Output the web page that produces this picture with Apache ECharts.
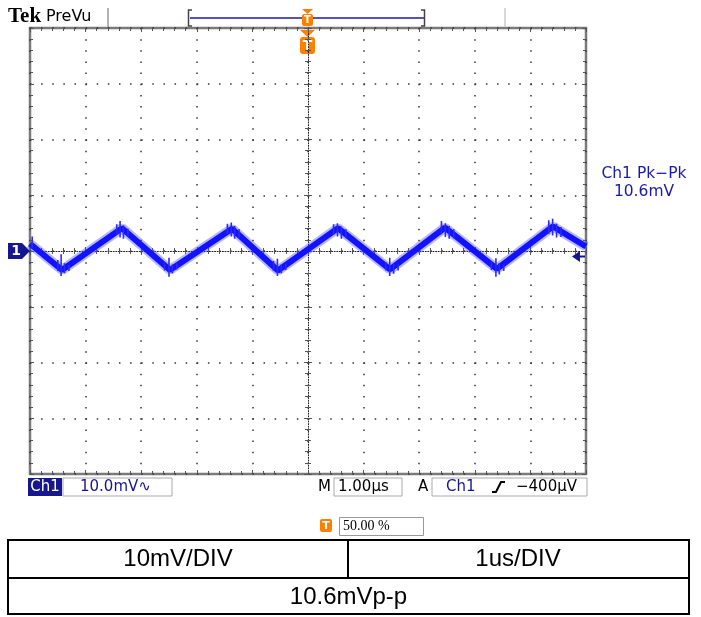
<!DOCTYPE html>
<html>
<head>
<meta charset="utf-8">
<script src="https://cdn.jsdelivr.net/npm/echarts@6/dist/echarts.min.js"></script>
<style>
html,body{margin:0;padding:0;background:#fff;}
#chart{width:701px;height:617px;}
</style>
</head>
<body>
<div id="chart"></div>
<script>
// ---- Data (time in µs from left edge, Ch1 in mV) ----
const timeUs = [0, 0.576, 1.655, 2.518, 3.633, 4.460, 5.540, 6.475, 7.464, 8.399, 9.406, 10];
const ch1mV  = [1.3, -3.4, 4.1, -3.4, 4.0, -3.5, 4.1, -3.3, 4.2, -3.2, 4.4, 0.8];

// noise spikes near the corners of the ripple (time, low, high)
const spikeT  = [0.04, 0.50, 0.56, 0.62, 0.70, 1.56, 1.62, 1.68, 1.76, 2.42, 2.50, 2.56, 2.64,
                 3.55, 3.62, 3.68, 3.76, 4.38, 4.45, 4.52, 4.60, 5.46, 5.53, 5.60, 5.68,
                 6.40, 6.47, 6.54, 6.62, 7.40, 7.47, 7.54, 7.62, 8.30, 8.38, 8.44, 8.52,
                 9.33, 9.40, 9.47, 9.55];
const spikeLo = [0.6, -3.6, -4.5, -4.0, -3.6, 2.9, 2.4, 2.2, 2.5, -3.5, -4.6, -4.0, -3.3,
                 3.0, 2.6, 2.2, 2.4, -3.6, -4.5, -4.0, -3.4, 2.9, 2.6, 2.2, 2.3,
                 -3.5, -4.5, -4.1, -3.5, 3.0, 2.5, 2.2, 2.3, -3.4, -4.6, -4.2, -3.6,
                 3.1, 2.8, 2.4, 2.5];
const spikeHi = [2.6, -1.6, -0.6, -2.2, -2.5, 4.8, 5.4, 4.6, 4.0, -2.0, -1.2, -2.4, -2.2,
                 4.9, 5.1, 4.5, 3.9, -1.8, -1.4, -2.4, -2.3, 4.8, 5.0, 4.4, 3.9,
                 -2.0, -1.2, -2.3, -2.4, 5.4, 5.0, 4.5, 3.9, -1.9, -1.3, -2.2, -2.4,
                 5.5, 5.8, 4.9, 4.3];

const xDivs = [0, 10];      // 10 divisions, 1 µs/div
const yDivs = [-40, 40];    // 8 divisions, 10 mV/div

const tableRow1 = ['10mV/DIV', '1us/DIV'];
const tableRow2 = '10.6mVp-p';
const measLabel = ['Ch1 Pk\u2212Pk', '10.6mV'];

// ---- build ----
const trace = timeUs.map((t, i) => [t, ch1mV[i]]);
const spikes = [];
spikeT.forEach((t, i) => { spikes.push([t, spikeLo[i]], [t, spikeHi[i]], [t, '-']); });

const navy = '#16168e';
const orange = '#ff8000';
const tickC = '#555';

function xAx(pos, off, line) {
  return {
    type: 'value', min: xDivs[0], max: xDivs[1], interval: 1, position: pos, offset: off,
    axisLine: { show: !!line, onZero: false, lineStyle: { color: '#222', width: 1, type: [1, 1.6] } },
    axisLabel: { show: false },
    axisTick: { show: true, inside: true, length: 4, lineStyle: { color: tickC } },
    minorTick: { show: true, splitNumber: 5, length: 3, lineStyle: { color: tickC } },
    splitLine: { show: false }
  };
}
function yAx(pos, off, line) {
  return {
    type: 'value', min: yDivs[0], max: yDivs[1], interval: 10, position: pos, offset: off,
    axisLine: { show: !!line, onZero: false, lineStyle: { color: '#222', width: 1, type: [1, 1.6] } },
    axisLabel: { show: false },
    axisTick: { show: true, inside: true, length: 4, lineStyle: { color: tickC } },
    minorTick: { show: true, splitNumber: 5, length: 3, lineStyle: { color: tickC } },
    splitLine: { show: false }
  };
}

const xAxes = [xAx('bottom', 0), xAx('top', 0), xAx('bottom', -223, true), xAx('top', -223)];
xAxes[0].splitLine = { show: true, lineStyle: { color: '#333', width: 1.5, type: [1.5, 9.65] } };
const yAxes = [yAx('left', 0), yAx('right', 0), yAx('left', -278, true), yAx('right', -278)];
yAxes[0].splitLine = { show: true, lineStyle: { color: '#333', width: 1.5, type: [1.5, 9.62] } };

const F = '"DejaVu Sans", Verdana, sans-serif';
function txt(x, y, s, font, fill, align) {
  return { type: 'text', silent: true, style: { x: x, y: y, text: s, font: font, fill: fill, textAlign: align || 'left', textVerticalAlign: 'middle' } };
}
function rect(x, y, w, h, fill, stroke, r, lw) {
  return { type: 'rect', silent: true, shape: { x: x, y: y, width: w, height: h, r: r || 0 },
           style: { fill: fill || 'none', stroke: stroke || null, lineWidth: lw || 1 } };
}
function poly(pts, fill) { return { type: 'polygon', silent: true, shape: { points: pts }, style: { fill: fill } }; }
function pline(pts, stroke, lw) { return { type: 'polyline', silent: true, shape: { points: pts }, style: { stroke: stroke, lineWidth: lw || 1, fill: 'none' } }; }

const graphics = [
  // header
  txt(8, 17, 'Tek', 'bold 21px "Liberation Serif", serif', '#000'),
  txt(46, 17, 'PreVu', '16px ' + F, '#000'),
  pline([[108, 8], [108, 27]], '#999', 1.5),
  pline([[505, 8], [505, 27]], '#ccc', 1.5),
  pline([[190, 18], [425, 18]], '#1a1aa0', 1.5),
  pline([[192, 10], [188.5, 10], [188.5, 26], [192, 26]], '#444', 1.5),
  pline([[421, 10], [424.5, 10], [424.5, 26], [421, 26]], '#444', 1.5),
  poly([[302, 9], [313, 9], [307.5, 14]], orange),
  rect(302, 14, 11, 12, orange, null, 2),
  txt(307.5, 20.5, 'T', 'bold 10px ' + F, '#fff', 'center'),
  poly([[300, 30], [315, 30], [307.5, 37]], orange),
  rect(300, 37, 15, 17, orange, null, 3),
  txt(307.5, 46, 'T', 'bold 14px ' + F, '#fff', 'center'),
  // channel markers
  poly([[8, 243], [22, 243], [30, 251], [22, 259], [8, 259]], navy),
  txt(16, 251.5, '1', 'bold 14px ' + F, '#fff', 'center'),
  poly([[572, 256.5], [580, 251], [580, 262]], navy),
  pline([[578, 256.5], [585, 256.5]], navy, 2),
  // measurement
  txt(644, 174, measLabel[0], '15.5px ' + F, '#1a1aaa', 'center'),
  txt(644, 192, measLabel[1], '15.5px ' + F, '#1a1aaa', 'center'),
  // status bar
  rect(28, 478, 34, 18, navy),
  txt(45, 487.5, 'Ch1', '15px ' + F, '#fff', 'center'),
  rect(63, 478, 109, 18, '#fff', '#aaa'),
  txt(80, 487.5, '10.0mV\u223F', '15px ' + F, navy),
  txt(318, 487.5, 'M', '15px ' + F, '#000'),
  rect(334, 478, 68, 18, '#fff', '#aaa'),
  txt(338, 487.5, '1.00\u00B5s', '15px ' + F, '#000'),
  txt(418, 487.5, 'A', '15px ' + F, '#000'),
  rect(432, 478, 155, 18, '#fff', '#aaa'),
  txt(446, 487.5, 'Ch1', '15px ' + F, navy),
  pline([[492, 492], [496, 492], [501, 482], [505, 482]], '#000', 2),
  txt(516, 487.5, '\u2212400\u00B5V', '15px ' + F, '#000'),
  // trigger position
  rect(320, 519, 12, 13, orange, null, 2),
  txt(326, 526, 'T', 'bold 11px ' + F, '#fff', 'center'),
  rect(339.5, 517.5, 84, 18, '#fff', '#999'),
  txt(343, 526.5, '50.00 %', '14px "Liberation Serif", serif', '#000'),
  // table
  rect(8, 540, 681, 74, 'none', '#000', 0, 2),
  pline([[8, 578], [689, 578]], '#000', 2),
  pline([[348, 540], [348, 578]], '#000', 2),
  txt(178, 559, tableRow1[0], '24px "Liberation Sans", Arial, sans-serif', '#000', 'center'),
  txt(518, 559, tableRow1[1], '24px "Liberation Sans", Arial, sans-serif', '#000', 'center'),
  txt(348.5, 597, tableRow2, '24px "Liberation Sans", Arial, sans-serif', '#000', 'center')
];

const chart = echarts.init(document.getElementById('chart'), null, { renderer: 'canvas' });
chart.setOption({
  animation: false,
  backgroundColor: '#fff',
  grid: { left: 30, top: 28, width: 556, height: 446, show: true, borderColor: '#7a7a7a', borderWidth: 2.5, backgroundColor: '#fff' },
  xAxis: xAxes,
  yAxis: yAxes,
  series: [
    { type: 'line', xAxisIndex: 0, yAxisIndex: 0, data: trace, symbol: 'none', silent: true,
      lineStyle: { color: '#4a4aff', width: 10, opacity: 0.4 }, z: 3 },
    { type: 'line', xAxisIndex: 0, yAxisIndex: 0, data: trace, symbol: 'none', silent: true,
      lineStyle: { color: '#1212ff', width: 6 }, z: 4 },
    { type: 'line', xAxisIndex: 0, yAxisIndex: 0, data: spikes, symbol: 'none', silent: true,
      connectNulls: false, lineStyle: { color: '#2a2aff', width: 1.6 }, z: 5 }
  ],
  graphic: { elements: graphics }
});
</script>
</body>
</html>
